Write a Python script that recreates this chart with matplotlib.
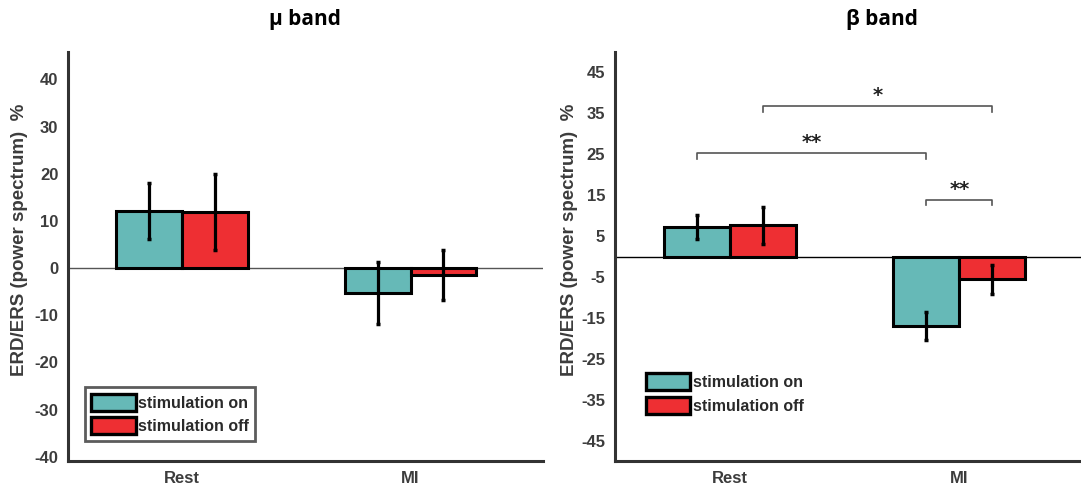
import numpy as np
import matplotlib.pyplot as plt
from matplotlib.patches import Patch

plt.rcParams['axes.unicode_minus'] = False

# data
categories = ['Rest', 'MI']
series_names = ['stimulation on', 'stimulation off']

mu_on = [12.1, -5.3]
mu_on_err = [6.0, 6.6]
mu_off = [11.9, -1.4]
mu_off_err = [8.1, 5.3]

beta_on = [7.2, -17.0]
beta_on_err = [2.9, 3.5]
beta_off = [7.6, -5.6]
beta_off_err = [4.6, 3.6]

# significance brackets (beta band): (category, series), (category, series), height, label
beta_sig = [
    (('Rest', 1), ('MI', 1), 36.7, '*'),
    (('Rest', 0), ('MI', 0), 25.2, '**'),
    (('MI', 0), ('MI', 1), 13.9, '**'),
]

col_on = '#66B9B7'
col_off = '#EE2F33'
txt_col = '#3c3c3c'
bw = 0.288

fig = plt.figure(figsize=(10.81, 4.93), dpi=100)
axL = fig.add_axes([68/1081, 32/493, 475/1081, 409/493])
axR = fig.add_axes([615/1081, 32/493, 466/1081, 409/493])


def bars(ax, on, on_err, off, off_err, zcol):
    x = np.arange(1, len(categories) + 1)
    ax.bar(x - bw/2, on, bw, color=col_on, edgecolor='black', linewidth=2.2, zorder=2)
    ax.bar(x + bw/2, off, bw, color=col_off, edgecolor='black', linewidth=2.2, zorder=2)
    ax.errorbar(x - bw/2, on, yerr=on_err, fmt='none', ecolor='black',
                elinewidth=2.3, capsize=1.5, capthick=2.5, zorder=3)
    ax.errorbar(x + bw/2, off, yerr=off_err, fmt='none', ecolor='black',
                elinewidth=2.3, capsize=1.5, capthick=2.5, zorder=3)
    ax.axhline(0, color=zcol, linewidth=1.0, zorder=1)
    ax.set_xticks(x)
    ax.set_xticklabels(categories)
    for s in ['top', 'right']:
        ax.spines[s].set_visible(False)
    for s in ['left', 'bottom']:
        ax.spines[s].set_linewidth(2.2)
        ax.spines[s].set_color('#333333')
    ax.tick_params(length=0, labelsize=12, labelcolor=txt_col, pad=7)


def bold_ticks(ax):
    for t in ax.get_xticklabels() + ax.get_yticklabels():
        t.set_fontweight('bold')
        t.set_fontfamily('Liberation Sans')


bars(axL, mu_on, mu_on_err, mu_off, mu_off_err, '#555555')
axL.set_xlim(0.5, 2.58)
axL.set_ylim(-40.9, 45.8)
axL.set_yticks(np.arange(-40, 41, 10))
bold_ticks(axL)

bars(axR, beta_on, beta_on_err, beta_off, beta_off_err, 'black')
axR.set_xlim(0.5, 2.53)
axR.set_ylim(-50, 50)
axR.set_yticks(np.arange(-45, 46, 10))
bold_ticks(axR)

# brackets
cat_idx = {c: i + 1 for i, c in enumerate(categories)}
for (c1, s1), (c2, s2), h, lab in beta_sig:
    x1 = cat_idx[c1] + (bw/2 if s1 else -bw/2)
    x2 = cat_idx[c2] + (bw/2 if s2 else -bw/2)
    axR.plot([x1, x1, x2, x2], [h - 1.3, h, h, h - 1.3], color='#555555', lw=1.2)
    axR.text((x1 + x2) / 2, h + 2.6, lab, ha='center', va='center',
             fontsize=14, fontweight='bold', color='#222222', family='DejaVu Sans')

# legends
handles = [Patch(facecolor=col_on, edgecolor='black', linewidth=2.4),
           Patch(facecolor=col_off, edgecolor='black', linewidth=2.4)]
legL = axL.legend(handles, series_names, loc='lower left', bbox_to_anchor=(0.018, 0.03),
                  fancybox=False, edgecolor='#333333', handlelength=2.8, handleheight=1.25,
                  handletextpad=0.15, borderpad=0.4, labelspacing=0.42,
                  prop={'family': 'Liberation Sans', 'weight': 'bold', 'size': 11.5})
legL.get_frame().set_linewidth(2.0)
legR = axR.legend(handles, series_names, loc='lower left', bbox_to_anchor=(0.035, 0.08),
                  frameon=False, handlelength=2.8, handleheight=1.25,
                  handletextpad=0.15, borderpad=0.4, labelspacing=0.42,
                  prop={'family': 'Liberation Sans', 'weight': 'bold', 'size': 11.5})
for leg in (legL, legR):
    for t in leg.get_texts():
        t.set_color('#2a2a2a')

# titles and y labels
fig.text(305/1081, 1 - 20/493, 'μ band', ha='center', va='center',
         fontsize=15, fontweight='bold', family='Open Sans')
fig.text(882/1081, 1 - 20/493, 'β band', ha='center', va='center',
         fontsize=15, fontweight='bold', family='Open Sans')
ylab = 'ERD/ERS (power spectrum)  %'
fig.text(20/1081, 1 - 240/493, ylab, rotation=90, ha='center', va='center',
         fontsize=13.5, fontweight='bold', color=txt_col, family='Liberation Sans')
fig.text(570/1081, 1 - 240/493, ylab, rotation=90, ha='center', va='center',
         fontsize=13.5, fontweight='bold', color=txt_col, family='Liberation Sans')

fig.savefig('out.png', dpi=100)
